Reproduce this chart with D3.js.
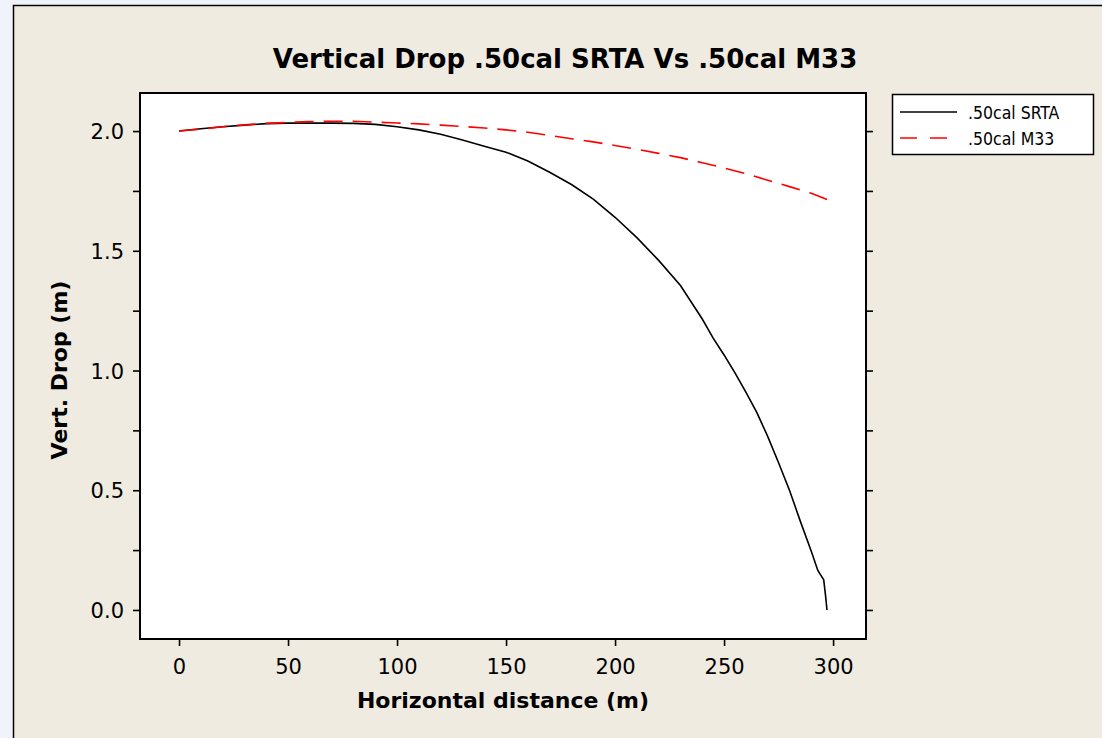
<!DOCTYPE html>
<html><head><meta charset="utf-8">
<script src="https://cdn.jsdelivr.net/npm/d3@7"></script>
<style>
html,body{margin:0;padding:0;background:#f0f4fa;}
svg{display:block;}
</style></head>
<body>
<svg id="c" width="1102" height="738"></svg>
<script>
// ---- data ----
const srtaX = [0,10,20,30,40,50,60,70,80,90,100,110,120,130,140,150,160,170,180,190,200,210,220,230,240,245,250,255,260,265,270,275,280,285,290,293,295.7,296.6,297.2];
const srtaY = [2.000,2.010,2.018,2.025,2.031,2.033,2.033,2.033,2.032,2.028,2.018,2.005,1.987,1.963,1.937,1.912,1.875,1.828,1.777,1.716,1.640,1.555,1.460,1.355,1.215,1.135,1.065,0.990,0.910,0.825,0.725,0.615,0.500,0.370,0.245,0.165,0.126,0.056,0.000];
const m33X = [0,10,20,30,40,50,60,70,80,90,100,110,120,130,140,150,160,170,180,190,200,210,220,230,240,250,260,270,280,290,298];
const m33Y = [2.000,2.008,2.018,2.026,2.032,2.036,2.040,2.041,2.041,2.037,2.034,2.030,2.025,2.019,2.013,2.005,1.995,1.982,1.968,1.955,1.940,1.924,1.907,1.889,1.868,1.846,1.822,1.795,1.768,1.740,1.711];
const xTicks = [0,50,100,150,200,250,300];
const yTicks = [0,0.25,0.5,0.75,1.0,1.25,1.5,1.75,2.0];
const yLabels = [0,0.5,1.0,1.5,2.0];
const seriesNames = [".50cal SRTA", ".50cal M33"];
const titleText = "Vertical Drop .50cal SRTA Vs .50cal M33";
const xTitle = "Horizontal distance (m)";
const yTitle = "Vert. Drop (m)";

// ---- layout ----
const svg = d3.select("#c");
const L = 140, R = 866, T = 93, B = 639;
const x = d3.scaleLinear().domain([-17.9, 315.1]).range([L, R]);
const y = d3.scaleLinear().domain([-0.1213, 2.1590]).range([B, T]);

svg.append("rect").attr("x",13.5).attr("y",5.5).attr("width",1200).attr("height",800)
  .attr("fill","#efebe1").attr("stroke","#000").attr("stroke-width",1.5);

svg.append("rect").attr("x",L).attr("y",T).attr("width",R-L).attr("height",B-T)
  .attr("fill","#fff");

const font = "'DejaVu Sans', Verdana, sans-serif";

// axes
const gx = svg.append("g").attr("transform",`translate(0,${B})`)
  .call(d3.axisBottom(x).tickValues(xTicks).tickSize(7).tickPadding(13).tickFormat(d3.format("d")));
const gy = svg.append("g").attr("transform",`translate(${L},0)`)
  .call(d3.axisLeft(y).tickValues(yTicks).tickSize(7).tickPadding(9)
    .tickFormat(d => yLabels.includes(d) ? d3.format(".1f")(d) : ""));
const gr = svg.append("g").attr("transform",`translate(${R},0)`)
  .call(d3.axisRight(y).tickValues(yTicks).tickSize(7).tickFormat(""));
[gx,gy,gr].forEach(g=>{
  g.select(".domain").remove();
  g.selectAll(".tick line").attr("stroke","#000").attr("stroke-width",1.6);
  g.selectAll(".tick text").attr("fill","#000").style("font-family",font).style("font-size","21px");
});
gy.selectAll(".tick text").attr("dy","0.36em");

// plot frame
svg.append("rect").attr("x",L).attr("y",T).attr("width",R-L).attr("height",B-T)
  .attr("fill","none").attr("stroke","#000").attr("stroke-width",2);

// lines
const line = d3.line().x(d=>x(d[0])).y(d=>y(d[1])).curve(d3.curveLinear);
const srta = srtaX.map((v,i)=>[v,srtaY[i]]);
const m33 = m33X.map((v,i)=>[v,m33Y[i]]);
svg.append("path").datum(srta).attr("d",line).attr("fill","none")
  .attr("stroke","#000").attr("stroke-width",1.6);
svg.append("path").datum(m33).attr("d",line).attr("fill","none")
  .attr("stroke","#ff0000").attr("stroke-width",1.6).attr("stroke-dasharray","19,10");

// titles
svg.append("text").attr("x",565).attr("y",68).attr("text-anchor","middle")
  .style("font-family",font).style("font-weight","bold").style("font-size","26px").text(titleText);
svg.append("text").attr("x",(L+R)/2).attr("y",708).attr("text-anchor","middle")
  .style("font-family",font).style("font-weight","bold").style("font-size","22px").text(xTitle);
svg.append("text").attr("transform","translate(67,370) rotate(-90)").attr("text-anchor","middle")
  .style("font-family",font).style("font-weight","bold").style("font-size","22px").text(yTitle);

// legend
const lg = svg.append("g");
lg.append("rect").attr("x",892.5).attr("y",94.5).attr("width",201).attr("height",60)
  .attr("fill","#fff").attr("stroke","#000").attr("stroke-width",1.5);
const legY = [112,138];
const colors = ["#000","#ff0000"];
const dashes = [null,"17,13"];
seriesNames.forEach((n,i)=>{
  lg.append("line").attr("x1",900).attr("x2",i?953:957).attr("y1",legY[i]).attr("y2",legY[i])
    .attr("stroke",colors[i]).attr("stroke-width",1.6).attr("stroke-dasharray",dashes[i]);
  lg.append("text").attr("x",968).attr("y",legY[i]+6.5)
    .style("font-family","'DejaVu Sans Condensed', 'DejaVu Sans', sans-serif")
    .style("font-stretch","condensed").style("font-size","17.5px").text(n);
});
</script>
</body></html>
